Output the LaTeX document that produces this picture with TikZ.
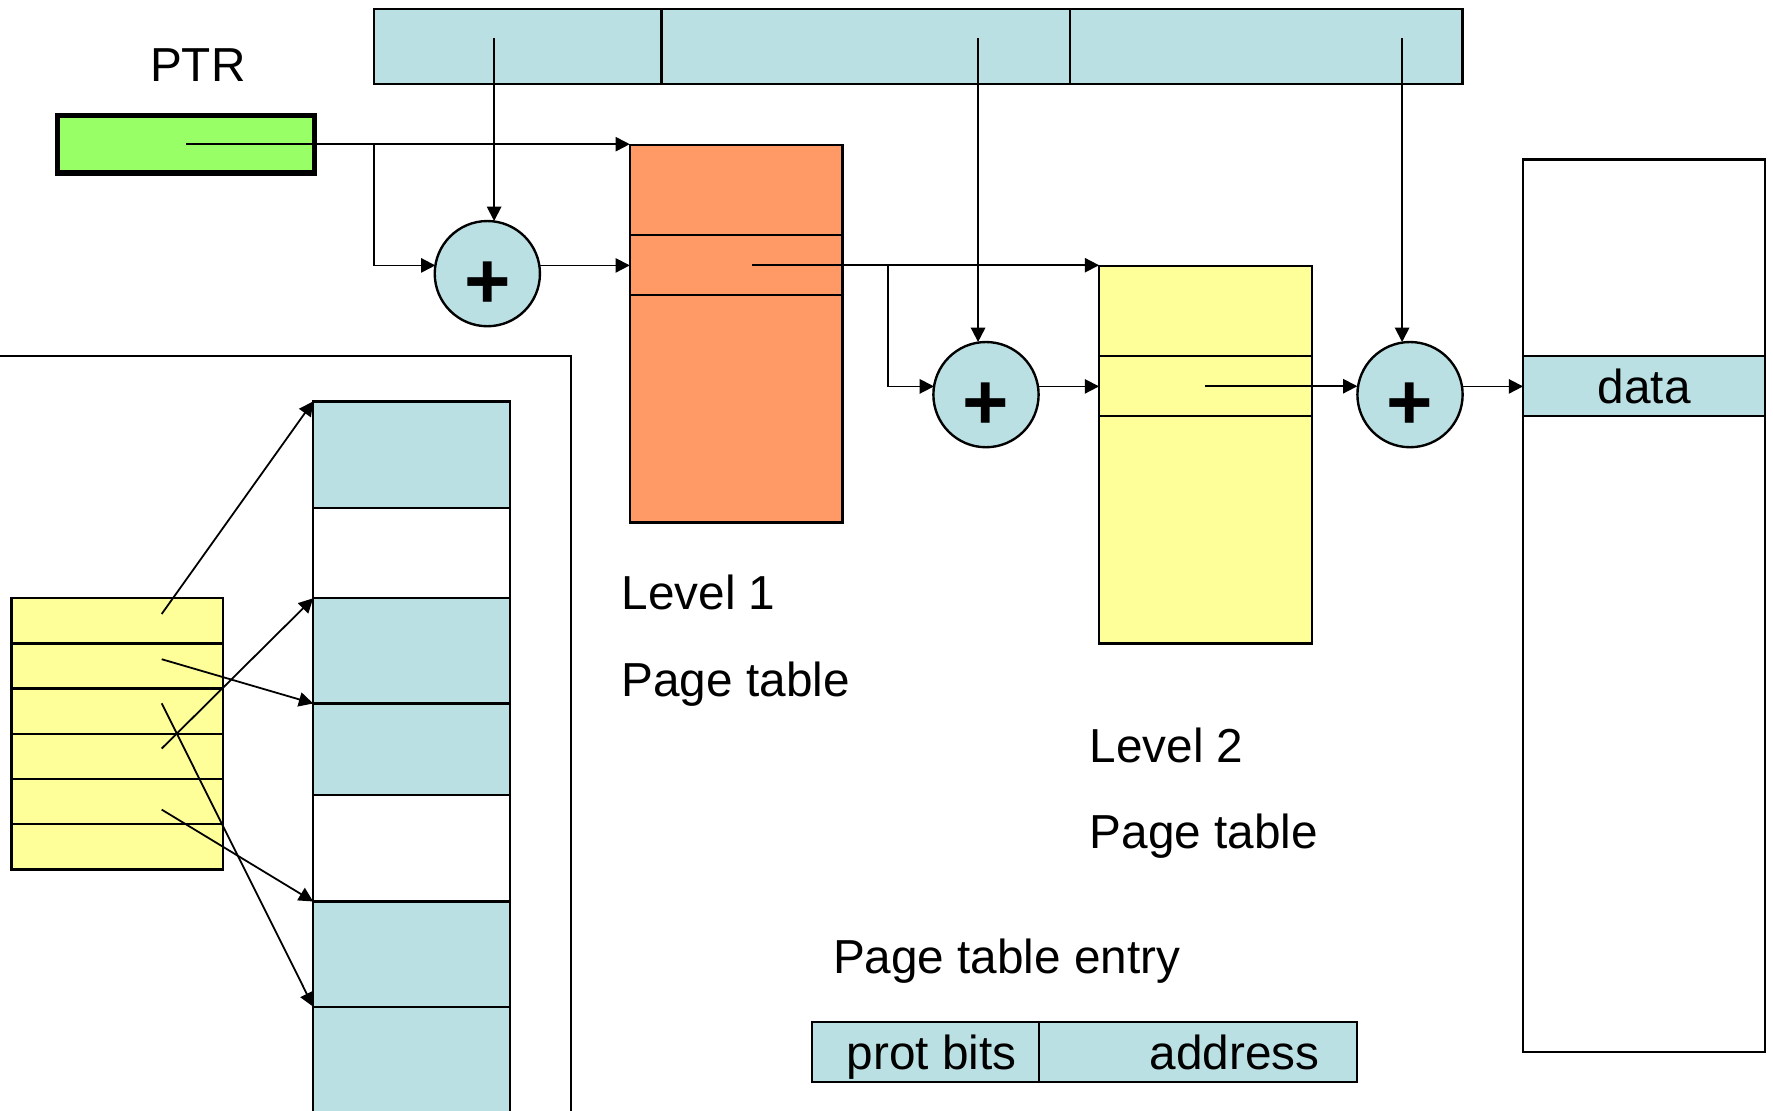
\documentclass[tikz,border=0pt]{standalone}
\usepackage{fontspec}
\setmainfont{Liberation Sans}
\usetikzlibrary{arrows.meta}
\definecolor{cellblue}{RGB}{187,224,227}
\definecolor{tabyellow}{RGB}{255,255,153}
\definecolor{taborange}{RGB}{255,153,102}
\definecolor{ptrgreen}{RGB}{153,255,102}
\tikzset{
  cell/.style={draw, line width=0.6pt, inner sep=0pt, outer sep=0pt, anchor=north west},
  adder/.style={circle, draw, line width=0.6pt, fill=cellblue, minimum size=0.93cm,
    inner sep=0pt, outer sep=0pt, text height=17.6pt, text depth=0pt,
    font=\fontsize{20}{20}\selectfont\bfseries},
  link/.style={-{Triangle[length=3.6pt,width=3.6pt]}, line width=0.45pt},
  txt/.style={anchor=base west, inner sep=0pt},
}
\begin{document}
\begin{tikzpicture}[x=0.01cm, y=-0.01cm, font=\fontsize{12}{14}\selectfont]
    \useasboundingbox (0,0) rectangle (1568,982);
    \clip (0,0) rectangle (1568,982);

    % virtual address fields
    \node[cell, fill=cellblue, minimum width=2.54cm, minimum height=0.66cm] (va1) at (331,8) {};
    \node[cell, fill=cellblue, minimum width=3.61cm, minimum height=0.66cm] (va2) at (va1.north east) {};
    \node[cell, fill=cellblue, minimum width=3.47cm, minimum height=0.66cm] (va3) at (va2.north east) {};
    \coordinate (off1) at (437,34);
    \coordinate (off2) at (865,34);
    \coordinate (off3) at (1240,34);

    % page table pointer
    \node[anchor=base] (ptrname) at (175,72) {PTR};
    \node[cell, line width=1.4pt, fill=ptrgreen, minimum width=2.27cm, minimum height=0.51cm] (ptr) at (51,102) {};

    % level 1 table
    \node[cell, fill=taborange, minimum width=1.88cm, minimum height=0.80cm] (l1a) at (557,128) {};
    \node[cell, fill=taborange, minimum width=1.88cm, minimum height=0.53cm] (l1b) at (l1a.south west) {};
    \node[cell, fill=taborange, minimum width=1.88cm, minimum height=2.01cm] (l1c) at (l1b.south west) {};
    \node[txt] (lv1) at (549,539) {Level 1};
    \node[txt] (lv1b) at (549,616) {Page table};

    % level 2 table
    \node[cell, fill=tabyellow, minimum width=1.88cm, minimum height=0.80cm] (l2a) at (972,235) {};
    \node[cell, fill=tabyellow, minimum width=1.88cm, minimum height=0.53cm] (l2b) at (l2a.south west) {};
    \node[cell, fill=tabyellow, minimum width=1.88cm, minimum height=2.01cm] (l2c) at (l2b.south west) {};
    \node[txt] (lv2) at (963,674) {Level 2};
    \node[txt] (lv2b) at (963,750) {Page table};

    % memory
    \node[cell, fill=white, minimum width=2.14cm, minimum height=1.74cm] (mema) at (1347,141) {};
    \node[cell, fill=cellblue, minimum width=2.14cm, minimum height=0.53cm] (memd) at (mema.south west) {data};
    \node[cell, fill=white, minimum width=2.14cm, minimum height=5.62cm] (memc) at (memd.south west) {};

    % adders
    \node[adder] (add1) at (431,242) {+};
    \node[adder] (add2) at (872,349) {+};
    \node[adder] (add3) at (1247,349) {+};

    \coordinate (fork1) at (331,128);
    \coordinate (fork2) at (785,234.5);
    \draw[link] (ptr.center) -- (ptr.center -| l1a.west);
    \draw[link] (fork1) |- (add1.171);
    \draw[link] (off1) -- (off1 |- add1.north);
    \draw[link] (add1.9) -- (add1.9 -| l1b.west);
    \draw[link] ([xshift=0.14cm]l1b.center) -- (l1b.center -| l2a.west);
    \draw[link] (fork2) |- (add2.171);
    \draw[link] (off2) -- (off2 |- add2.north);
    \draw[link] (add2.9) -- (add2.9 -| l2b.west);
    \draw[link] (l2b.center) -- (l2b.center -| add3.west);
    \draw[link] (off3) -- (off3 |- add3.north);
    \draw[link] (add3.9) -- (add3.9 -| memd.west);

    % entry format
    \node[txt] (pteh) at (736,861) {Page table entry};
    \node[cell, fill=cellblue, minimum width=2.01cm, minimum height=0.53cm] (prot) at (718,904) {};
    \node[cell, fill=cellblue, minimum width=2.81cm, minimum height=0.53cm] (addr) at (prot.north east) {};
    \node[anchor=base] (protname) at (824,946) {prot bits};
    \node[anchor=base] (addrname) at (1092,946) {address};

    % frames
    \draw[line width=0.6pt] (-5,315) -- (505,315) -- (505,1000);
    \node[cell, fill=cellblue, minimum width=1.74cm, minimum height=0.94cm] (pg1) at (277,355) {};
    \node[cell, fill=white, minimum width=1.74cm, minimum height=0.80cm] (pg2) at (pg1.south west) {};
    \node[cell, fill=cellblue, minimum width=1.74cm, minimum height=0.93cm] (pg3) at (pg2.south west) {};
    \node[cell, fill=cellblue, minimum width=1.74cm, minimum height=0.81cm] (pg4) at (pg3.south west) {};
    \node[cell, fill=white, minimum width=1.74cm, minimum height=0.94cm] (pg5) at (pg4.south west) {};
    \node[cell, fill=cellblue, minimum width=1.74cm, minimum height=0.93cm] (pg6) at (pg5.south west) {};
    \node[cell, fill=cellblue, minimum width=1.74cm, minimum height=1.20cm] (pg7) at (pg6.south west) {};

    \foreach \i in {1,...,6}
        \node[cell, fill=tabyellow, minimum width=1.87cm, minimum height=0.40cm] (pt\i) at (10,489+40*\i) {};
    \coordinate (s1) at (143,543);
    \coordinate (s2) at (143,583);
    \coordinate (s3) at (143,622);
    \coordinate (s4) at (143,662);
    \coordinate (s5) at (143,716);
    \draw[link] (s1) -- (pg1.north west);
    \draw[link] (s2) -- (pg4.north west);
    \draw[link] (s3) -- (pg7.north west);
    \draw[link] (s4) -- (pg3.north west);
    \draw[link] (s5) -- (pg6.north west);
\end{tikzpicture}
\end{document}
